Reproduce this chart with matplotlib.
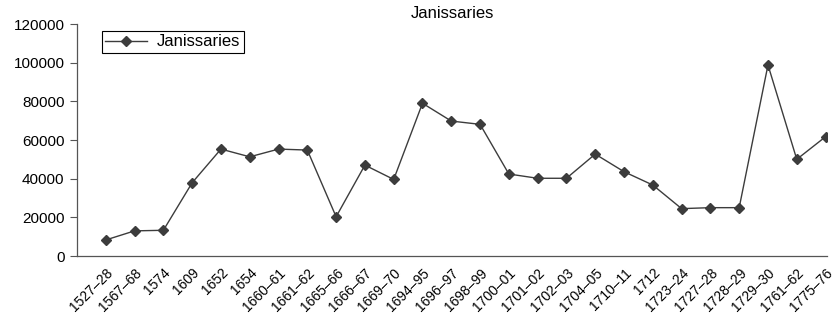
import matplotlib
matplotlib.use("Agg")
import matplotlib.pyplot as plt

categories = ["1527–28", "1567–68", "1574", "1609", "1652", "1654", "1660–61", "1661–62",
              "1665–66", "1666–67", "1669–70", "1694–95", "1696–97", "1698–99", "1700–01",
              "1701–02", "1702–03", "1704–05", "1710–11", "1712", "1723–24", "1727–28",
              "1728–29", "1729–30", "1761–62", "1775–76"]
values = [8300, 13000, 13300, 37900, 55300, 51300, 55300, 54800,
          20300, 47000, 39600, 79000, 69800, 68100, 42400,
          40200, 40200, 52700, 43600, 36700, 24500, 25000,
          25000, 98800, 50000, 61700]
yticks = [0, 20000, 40000, 60000, 80000, 100000, 120000]

plt.rcParams['font.family'] = ['Liberation Sans', 'DejaVu Sans']

fig = plt.figure(figsize=(8.35, 3.14), dpi=100)
ax = fig.add_axes([77/835, 1 - 256/314, (827-77)/835, (256-24)/314])

x = list(range(len(categories)))
ax.plot(x, values, color='#3c3c3c', lw=1.0, marker='D', markersize=5,
        markerfacecolor='#3c3c3c', markeredgecolor='#3c3c3c', label='Janissaries')

ax.set_xlim(-1, 25.05)
ax.set_ylim(0, 120000)
ax.set_yticks(yticks)
ax.set_yticklabels([str(v) for v in yticks], fontsize=11)
ax.set_xticks(x)
ax.set_xticklabels(categories, rotation=45, ha='right', rotation_mode='anchor', fontsize=10)
ax.tick_params(axis='x', length=0, pad=7)
ax.tick_params(axis='y', length=5, width=0.8, color='#555555', direction='out', pad=4)

for s in ['top', 'right']:
    ax.spines[s].set_visible(False)
for s in ['left', 'bottom']:
    ax.spines[s].set_color('#555555')
    ax.spines[s].set_linewidth(0.9)

fig.text(452/835, 1 - 14/314, 'Janissaries', ha='center', va='center', fontsize=12)

leg = ax.legend(loc='upper left', bbox_to_anchor=(25/750, (256-31)/232), fontsize=12,
                frameon=True, fancybox=False, edgecolor='black', framealpha=1,
                handlelength=2.5, borderpad=0.2, handletextpad=0.6, borderaxespad=0)
leg.get_frame().set_linewidth(0.8)

fig.savefig('out.png', dpi=100)
